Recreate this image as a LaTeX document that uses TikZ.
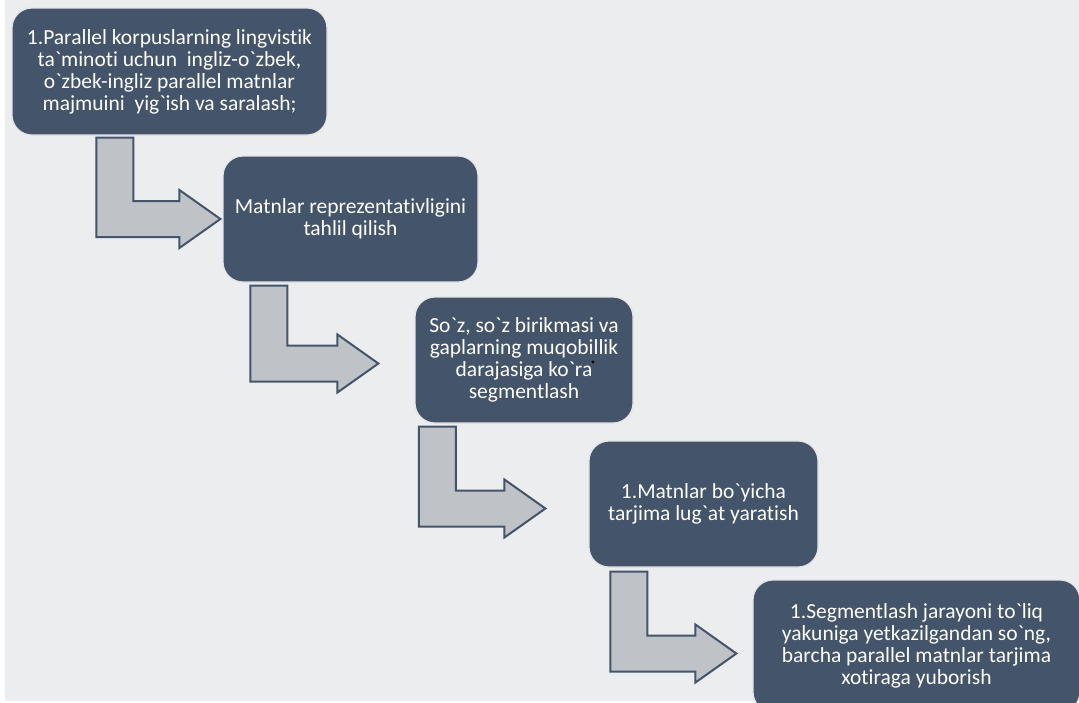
\documentclass[tikz,border=0pt]{standalone}
\usepackage{fontspec}
\setmainfont{Carlito}[Ligatures={TeXOff,NoCommon}]
\usepackage{tikz}
\usetikzlibrary{calc, positioning}
\definecolor{flowSlate}{RGB}{68,84,106}
\definecolor{flowArrowBg}{RGB}{191,194,199}
\definecolor{flowPageBg}{RGB}{236,237,239}
\definecolor{flowEdge}{RGB}{226,228,232}
\tikzset{
    flow/.style={x=1pt, y=-1pt, line join=miter,
                 font=\fontsize{21.5}{22}\selectfont},
    stepbox/.style={draw=flowEdge, line width=1.2pt, fill=flowSlate,
                    rounded corners=20pt, text=white, align=center,
                    inner sep=0pt},
    bentarrow/.style={draw=flowSlate, line width=2pt, fill=flowArrowBg},
}

\begin{document}
\begin{tikzpicture}[flow]

\useasboundingbox (0,0) rectangle (1079,702);
\clip (0,0) rectangle (1079,702);
\fill[flowPageBg] (5,0) rectangle (1079,701);

% ─── Étapes ─────────────────────────────────────────────────────────────
\node[stepbox, minimum width=315pt, minimum height=127pt] (collect) at (169.5,71.5)
    {1.Parallel korpuslarning lingvistik\\
     ta`minoti uchun\ \ ingliz-o`zbek,\\
     o`zbek-ingliz parallel matnlar\\
     majmuini\ \ yig`ish va saralash;};

\node[stepbox, minimum width=255pt, minimum height=126pt] (analyse) at (350.5,219)
    {Matnlar reprezentativligini\\
     tahlil qilish};

\node[stepbox, minimum width=218pt, minimum height=126pt] (segment) at (524,360)
    {So`z, so`z birikmasi va\\
     gaplarning muqobillik\\
     darajasiga ko`ra\\
     segmentlash};
\fill (593,362) circle (1.6pt);

\node[stepbox, minimum width=229pt, minimum height=126pt] (dict) at (703.5,504)
    {1.Matnlar bo`yicha\\
     tarjima lug`at yaratish};

\node[stepbox, minimum width=327pt, minimum height=132pt] (memory) at (916.5,646)
    {1.Segmentlash jarayoni to`liq\\
     yakuniga yetkazilgandan so`ng,\\
     barcha parallel matnlar tarjima\\
     xotiraga yuborish};

% ─── Flèches coudées (départ sous une étape, pointe vers la suivante) ───
\coordinate (s1) at ($(collect.south west)+(103.5,2)$);
\coordinate (t1) at ($(analyse.west)+(-2,0)$);
\coordinate (s2) at ($(analyse.south west)+(46.5,3)$);
\coordinate (t2) at ($(segment.west)+(-36,3.5)$);
\coordinate (s3) at ($(segment.south west)+(23,3)$);
\coordinate (t3) at ($(dict.west)+(-43,4.5)$);
\coordinate (s4) at ($(dict.south west)+(40.5,4)$);
\coordinate (t4) at ($(memory.west)+(-16,7.5)$);

\foreach \s/\t in {s1/t1, s2/t2, s3/t3, s4/t4}
    \draw[bentarrow] let \p1=(\s), \p2=(\t) in
        (\x1-18.5pt,\y1) -- (\x1+18.5pt,\y1) -- (\x1+18.5pt,\y2+18pt)
        -- (\x2-41pt,\y2+18pt) -- (\x2-41pt,\y2+29pt) -- (\x2,\y2)
        -- (\x2-41pt,\y2-29pt) -- (\x2-41pt,\y2-18pt)
        -- (\x1-18.5pt,\y2-18pt) -- cycle;

\end{tikzpicture}
\end{document}
